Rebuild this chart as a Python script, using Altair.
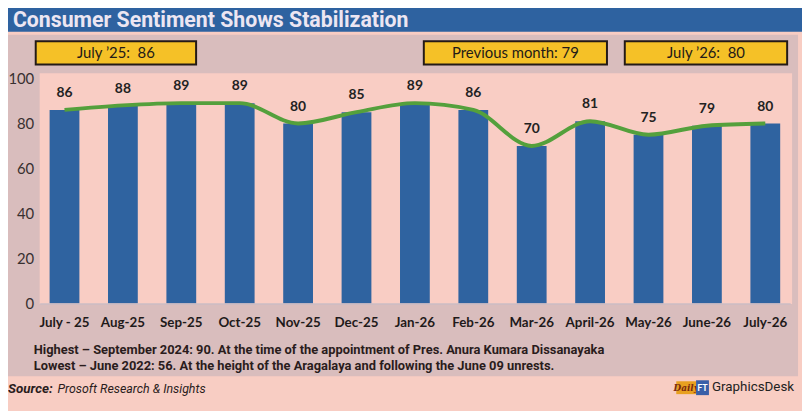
import altair as alt
import pandas as pd

# ---------------- data ----------------
months = ["July - 25", "Aug-25", "Sep-25", "Oct-25", "Nov-25", "Dec-25", "Jan-26",
          "Feb-26", "Mar-26", "April-26", "May-26", "June-26", "July-26"]
values = [86, 88, 89, 89, 80, 85, 89, 86, 70, 81, 75, 79, 80]
y_ticks = [0, 20, 40, 60, 80, 100]
title_text = "Consumer Sentiment Shows Stabilization"
box_texts = ["July \u201925:\u00a0 86", "Previous month: 79", "July \u201926:\u00a0 80"]
footnotes = [
    "Highest \u2013 September 2024: 90. At the time of the appointment of Pres. Anura Kumara Dissanayaka",
    "Lowest \u2013 June 2022: 56. At the height of the Aragalaya and following the June 09 unrests.",
]
source_label = "Source:"
source_text = "Prosoft Research & Insights"
brand_text = "GraphicsDesk"

df = pd.DataFrame({"month": months, "value": values})
one = pd.DataFrame({"k": [0]})

# ---------------- layout (reference pixel coords) ----------------
PAGE = 8            # page margin
OX, OY = 40, 72.5   # plot-area origin in reference coordinates
W, H = 758, 232
PAD = {"left": OX - PAGE, "top": OY - PAGE, "right": 802 - (OX - PAGE) - W,
       "bottom": 403 - (OY - PAGE) - H}

def X(v):
    return v - OX

def Y(v):
    return v - OY

BLUE = "#2e62a0"
GREEN = "#54a03c"
PANEL = "#d9bdbd"
PINK = "#f9cdc4"
BG = "#f8cdc3"
YELLOW = "#f5c127"
DARK = "#231a17"
NARROW = "Roboto, sans-serif"
BODY = "Lato, Open Sans, sans-serif"


def rect(x1, x2, y1, y2, fill, stroke=None, sw=0):
    kw = dict(fill=fill)
    if stroke:
        kw.update(stroke=stroke, strokeWidth=sw)
    return alt.Chart(one).mark_rect(**kw).encode(
        x=alt.value(X(x1)), x2=alt.value(X(x2)), y=alt.value(Y(y1)), y2=alt.value(Y(y2)))


def label(x, y, t, **kw):
    return alt.Chart(one).mark_text(**kw).encode(
        x=alt.value(X(x)), y=alt.value(Y(y)), text=alt.value(t))


layers = []
layers.append(rect(0, 812, 0, 30, BLUE))
layers.append(rect(3, 806, 33, 378, PANEL))
layers.append(rect(40, 800, 72, 305, PINK))

box_pos = [(36, 198), (428, 613), (631, 795)]
for (x1, x2), t in zip(box_pos, box_texts):
    layers.append(rect(x1, x2, 39.5, 63, YELLOW, DARK, 2))
    layers.append(label((x1 + x2) / 2, 51.5, t, font=BODY, fontSize=15, color=DARK,
                        align="center", baseline="middle"))

xenc = alt.X("month:N", sort=months, title=None,
             scale=alt.Scale(paddingInner=0.49, paddingOuter=0.17),
             axis=alt.Axis(labelAngle=0, ticks=False, labelFont=BODY, labelFontWeight="bold",
                           labelFontSize=13.5, labelColor="#1f1a1a", labelPadding=12,
                           domainColor="#cbbcc4", domainWidth=1.5, zindex=1))
yenc = alt.Y("value:Q", title=None, scale=alt.Scale(domain=[0, 102], nice=False),
             axis=alt.Axis(values=y_ticks, grid=False, ticks=False, domain=False,
                           labelFont=BODY, labelFontSize=15, labelColor="#383030",
                           labelPadding=6, zindex=1))

base = alt.Chart(df)
bars = base.mark_bar(color="#2f63a0").encode(x=xenc, y=yenc)
line = base.mark_line(color=GREEN, strokeWidth=4, interpolate="monotone").encode(
    x=alt.X("month:N", sort=months), y="value:Q")
vals = base.mark_text(dy=-17, font=BODY, fontWeight="bold", fontSize=14, color="#222222").encode(
    x=alt.X("month:N", sort=months), y="value:Q", text="value:Q")
layers += [bars, line, vals]

layers.append(label(13, 19, title_text, font=NARROW, fontWeight="bold", fontSize=21.5,
                    color="#ece6f2", align="left", baseline="middle"))
for i, t in enumerate(footnotes):
    layers.append(label(34, 351 + 17 * i, t, font=NARROW, fontWeight="bold", fontSize=13,
                        color="#2a1c1c", align="left", baseline="middle"))
layers.append(label(8, 391, source_label, font=NARROW, fontWeight="bold", fontStyle="italic",
                    fontSize=13.5, color="#2a1c1c", align="left", baseline="middle"))
layers.append(label(58, 391, source_text, font=NARROW, fontStyle="italic",
                    fontSize=12.5, color="#2a1c1c", align="left", baseline="middle"))
# brand logo
layers.append(rect(683, 703, 383, 396, "#e8a020"))
layers.append(label(693, 389.5, "Daily", font="DejaVu Serif", fontStyle="italic", fontWeight="bold",
                    fontSize=9, color="#7a2a10", align="center", baseline="middle"))
layers.append(rect(703, 716, 382, 397, "#3a5fa8"))
layers.append(label(709.5, 390, "FT", font=BODY, fontWeight="bold", fontSize=9,
                    color="#ffffff", align="center", baseline="middle"))
layers.append(label(719, 389, brand_text, font="Roboto, sans-serif", fontSize=13.5,
                    color="#222222", align="left", baseline="middle"))

chart = alt.layer(*layers).properties(
    width=W, height=H, autosize=alt.AutoSizeParams(type="none"), padding=PAD,
    background=BG,
).configure_view(strokeWidth=0)

chart.save("out.html", embed_options={"renderer": "svg", "actions": False})
